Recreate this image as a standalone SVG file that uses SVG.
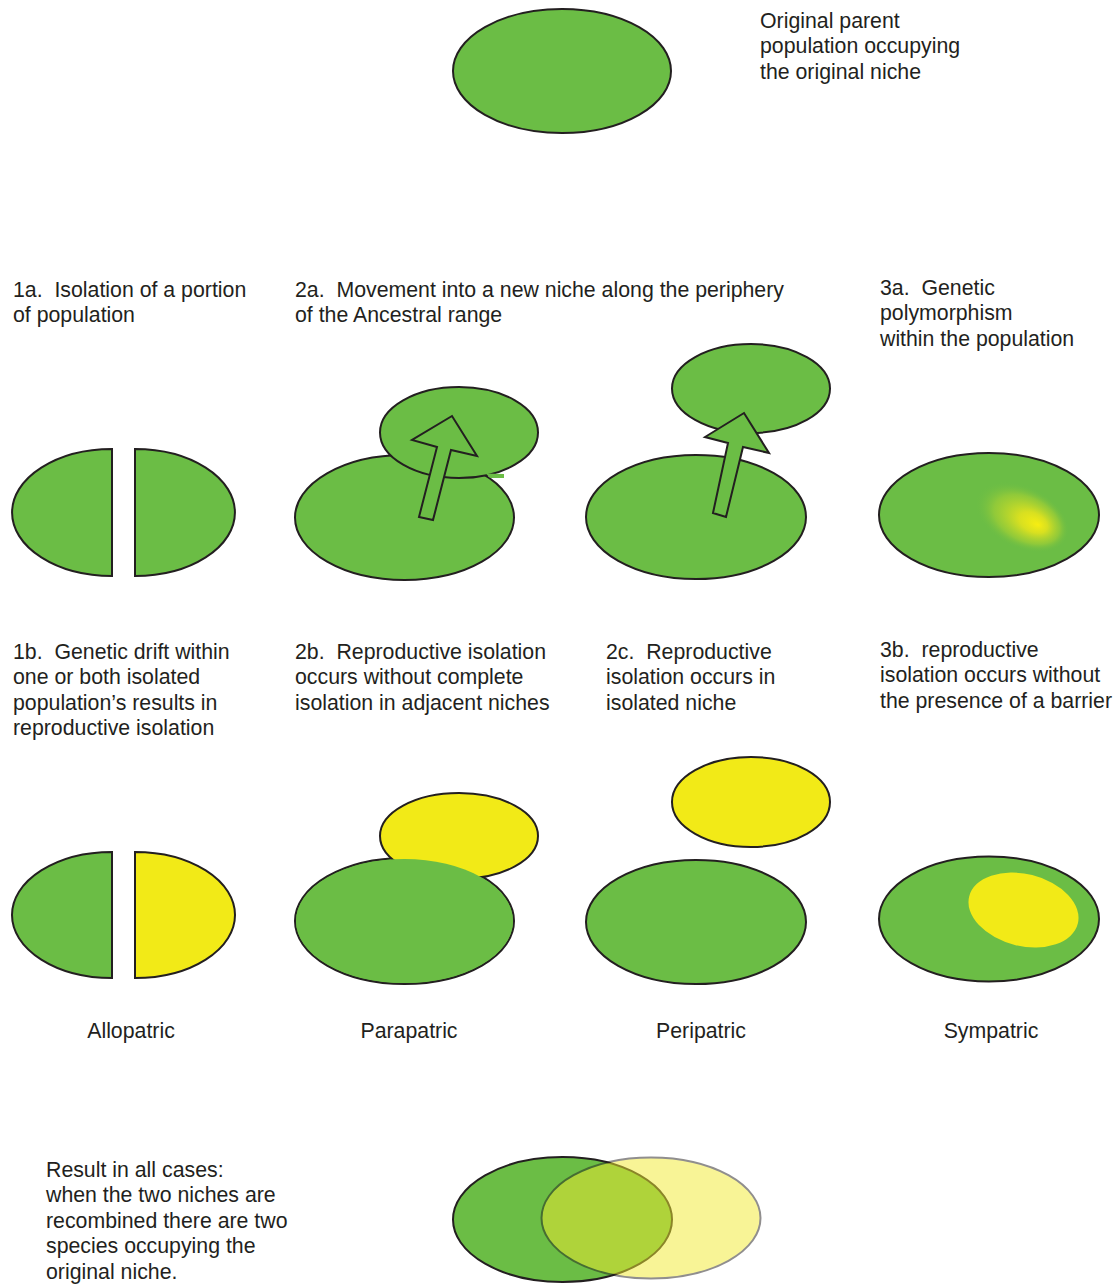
<svg xmlns="http://www.w3.org/2000/svg" width="1120" height="1284" viewBox="0 0 1120 1284">
<style>
.g{fill:#6bbd45;stroke:#231f20;stroke-width:2}
.y{fill:#f2ea17;stroke:#231f20;stroke-width:2}
.gf{fill:#6bbd45;stroke:none}
.t{font-family:"Liberation Sans",Arial,Helvetica,sans-serif;font-size:21.3px;fill:#231f20;white-space:pre}
.c{text-anchor:middle}
</style>
<defs>
<radialGradient id="poly" cx="0.5" cy="0.5" r="0.5" fx="0.68" fy="0.5">
<stop offset="0" stop-color="#f7ee12" stop-opacity="1"/>
<stop offset="0.3" stop-color="#ebe61a" stop-opacity="0.85"/>
<stop offset="0.7" stop-color="#c8dc28" stop-opacity="0.4"/>
<stop offset="1" stop-color="#6bbd45" stop-opacity="0"/>
</radialGradient>
</defs>
<rect width="1120" height="1284" fill="#ffffff"/>

<g id="parent">
<ellipse class="g" cx="562" cy="71" rx="109" ry="62"/>
<text class="t" x="760" y="27.5">Original parent</text>
<text class="t" x="760" y="53">population occupying</text>
<text class="t" x="760" y="78.5">the original niche</text>
</g>

<g id="step1a">
<text class="t" x="13" y="296.5">1a.  Isolation of a portion</text>
<text class="t" x="13" y="322">of population</text>
<path class="g" d="M112,449 A100,63.5 0 0 0 112,576 Z"/>
<path class="g" d="M135,449 A100,63.5 0 0 1 135,576 Z"/>
</g>

<g id="step2a">
<text class="t" x="295" y="296.5">2a.  Movement into a new niche along the periphery</text>
<text class="t" x="295" y="322">of the Ancestral range</text>
<ellipse class="g" cx="404.5" cy="517.5" rx="109.5" ry="62.5"/>
<ellipse class="g" cx="459" cy="432.5" rx="79" ry="45.5"/>
<path class="gf" d="M486,473.5 L504,474 L504,478 L490,478 Z"/>
</g>

<g id="step2a-peripheral">
<ellipse class="g" cx="696" cy="517" rx="110" ry="62"/>
<ellipse class="g" cx="751" cy="388.5" rx="79" ry="44.5"/>
</g>

<g id="step3a">
<text class="t" x="880" y="294.5">3a.  Genetic</text>
<text class="t" x="880" y="320">polymorphism</text>
<text class="t" x="880" y="345.5">within the population</text>
<ellipse class="g" cx="989" cy="515" rx="110" ry="62"/>
<ellipse cx="1022" cy="517" rx="50" ry="31" fill="url(#poly)" transform="rotate(26 1022 517)"/>
</g>

<g id="connectors">
<polygon class="g" points="419,517 437,447 412,440 452,416 477,456 451,450 433,520"/>
<polygon class="g" points="713,513 728,443 705,437 744,413 769,453 743,447 726,517"/>
</g>

<g id="step1b">
<text class="t" x="13" y="658.5">1b.  Genetic drift within</text>
<text class="t" x="13" y="684">one or both isolated</text>
<text class="t" x="13" y="709.5">population’s results in</text>
<text class="t" x="13" y="735">reproductive isolation</text>
<path class="g" d="M112,852 A100,63 0 0 0 112,978 Z"/>
<path class="y" d="M135,852 A100,63 0 0 1 135,978 Z"/>
<text class="t c" x="131" y="1037.5">Allopatric</text>
</g>

<g id="step2b">
<text class="t" x="295" y="658.5">2b.  Reproductive isolation</text>
<text class="t" x="295" y="684">occurs without complete</text>
<text class="t" x="295" y="709.5">isolation in adjacent niches</text>
<ellipse class="g" cx="404.5" cy="921" rx="109.5" ry="63"/>
<ellipse class="y" cx="459" cy="836" rx="79" ry="43"/>
<ellipse class="gf" cx="404.5" cy="921" rx="108.5" ry="62"/>
<text class="t c" x="409" y="1037.5">Parapatric</text>
</g>

<g id="step2c">
<text class="t" x="606" y="658.5">2c.  Reproductive</text>
<text class="t" x="606" y="684">isolation occurs in</text>
<text class="t" x="606" y="709.5">isolated niche</text>
<ellipse class="y" cx="751" cy="802" rx="79" ry="45"/>
<ellipse class="g" cx="696" cy="922" rx="110" ry="62"/>
<text class="t c" x="701" y="1037.5">Peripatric</text>
</g>

<g id="step3b">
<text class="t" x="880" y="656.5">3b.  reproductive</text>
<text class="t" x="880" y="682">isolation occurs without</text>
<text class="t" x="880" y="707.5">the presence of a barrier</text>
<ellipse class="g" cx="989" cy="919" rx="110" ry="62.5"/>
<ellipse cx="1023.5" cy="910" rx="56" ry="36" fill="#f2ea17" transform="rotate(14 1023.5 910)"/>
<text class="t c" x="991" y="1037.5">Sympatric</text>
</g>

<g id="result">
<text class="t" x="46" y="1176.5">Result in all cases:</text>
<text class="t" x="46" y="1202">when the two niches are</text>
<text class="t" x="46" y="1227.5">recombined there are two</text>
<text class="t" x="46" y="1253">species occupying the</text>
<text class="t" x="46" y="1278.5">original niche.</text>
<ellipse class="g" cx="562.5" cy="1219.5" rx="109.5" ry="62.5"/>
<ellipse class="y" cx="651" cy="1218" rx="109.5" ry="60.5" style="fill:#f2ea30" opacity="0.5"/>
</g>
</svg>
